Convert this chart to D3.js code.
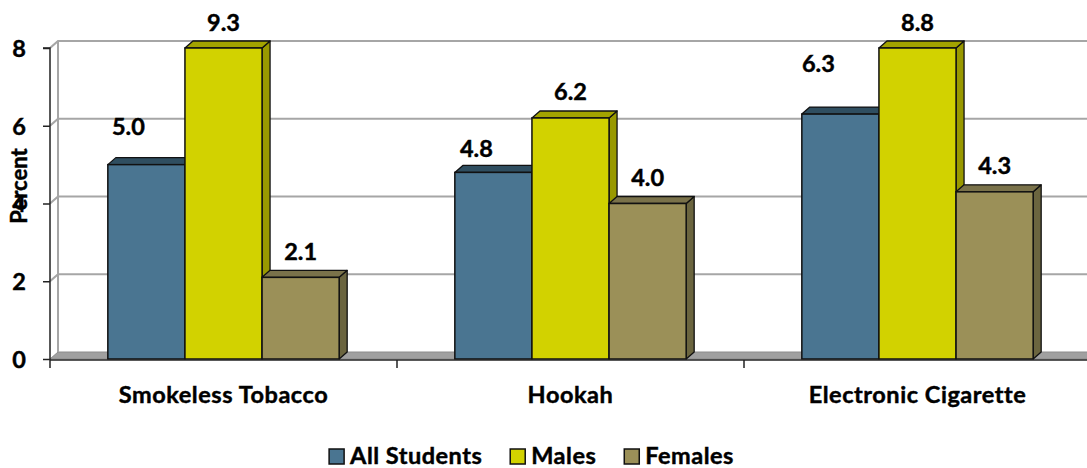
<!DOCTYPE html>
<html>
<head>
<meta charset="utf-8">
<script src="https://cdn.jsdelivr.net/npm/d3@7"></script>
<style>
  html, body { margin: 0; padding: 0; background: #ffffff; }
  svg { display: block; }
  svg text { font-family: Lato, "Open Sans", sans-serif; font-weight: 700; fill: #000; stroke: #000; stroke-width: 0.45px; }
</style>
</head>
<body>
<svg id="chart" width="1087" height="468"></svg>
<script>
// Tobacco product use by students (percent)
const categories = ["Smokeless Tobacco", "Hookah", "Electronic Cigarette"];
const seriesNames = ["All Students", "Males", "Females"];
const allStudents = [5.0, 4.8, 6.3];
const males = [9.3, 6.2, 8.8];
const females = [2.1, 4.0, 4.3];
const yTicks = [0, 2, 4, 6, 8];

// Manual nudges for the "All Students" value labels (dx, dy in px)
const allStudentsLabelDx = [-18, -17, -22];
const allStudentsLabelDy = [-12, 2, -25];

const seriesValues = [allStudents, males, females];
const frontColors = ["#4a7591", "#d2d200", "#9b9058"];
const topColors = ["#2f4e60", "#a3a300", "#7a724a"];
const sideColors = ["#35576b", "#999900", "#6b653f"];

const W = 1087, H = 468;
const svg = d3.select("#chart");
svg.append("rect").attr("width", W).attr("height", H).attr("fill", "#fff");

// Front plane of the 3-D plot and depth offset
const plotLeft = 50, plotRight = 1091, plotTop = 48, plotBottom = 359;
const DX = 8, DY = -7;

const y = d3.scaleLinear().domain([0, 8]).range([plotBottom, plotTop]);
const x0 = d3.scaleBand().domain(categories).range([plotLeft, plotRight]).paddingInner(0).paddingOuter(0);
const barW = x0.bandwidth() / (seriesNames.length + 1.5);
const x1 = d3.scaleBand().domain(seriesNames)
  .range([barW * 0.75, barW * 0.75 + barW * seriesNames.length]).padding(0);

const gridColor = "#a6a6a6";

// Floor
svg.append("path")
  .attr("d", `M${plotLeft},${y(0)} L${plotLeft + DX},${y(0) + DY} L${plotRight + DX},${y(0) + DY} L${plotRight},${y(0)} Z`)
  .attr("fill", "#a0a0a0").attr("stroke", "#8c8c8c").attr("stroke-width", 1);

// Side wall outline
svg.append("line")
  .attr("x1", plotLeft + DX).attr("x2", plotLeft + DX)
  .attr("y1", y(8) + DY).attr("y2", y(0) + DY)
  .attr("stroke", gridColor).attr("stroke-width", 2);

// Gridlines across the side wall and back wall
const grid = svg.append("g");
yTicks.filter(t => t > 0).forEach(t => {
  grid.append("path")
    .attr("d", `M${plotLeft},${y(t)} L${plotLeft + DX},${y(t) + DY} L${plotRight + DX},${y(t) + DY}`)
    .attr("fill", "none").attr("stroke", gridColor).attr("stroke-width", 2.2);
});

// Bars
const barsG = svg.append("g");
categories.forEach((cat, ci) => {
  seriesNames.forEach((s, si) => {
    const v = Math.min(seriesValues[si][ci], 8);
    const xa = x0(cat) + x1(s), xb = xa + barW;
    const yt = y(v), yb = y(0);
    const g = barsG.append("g");
    g.append("path")
      .attr("d", `M${xb},${yt} L${xb + DX},${yt + DY} L${xb + DX},${yb + DY} L${xb},${yb} Z`)
      .attr("fill", sideColors[si]).attr("stroke", "#111").attr("stroke-width", 1.3).attr("stroke-linejoin", "round");
    g.append("path")
      .attr("d", `M${xa},${yt} L${xa + DX},${yt + DY} L${xb + DX},${yt + DY} L${xb},${yt} Z`)
      .attr("fill", topColors[si]).attr("stroke", "#111").attr("stroke-width", 1.3).attr("stroke-linejoin", "round");
    g.append("rect")
      .attr("x", xa).attr("y", yt).attr("width", barW).attr("height", yb - yt)
      .attr("fill", frontColors[si]).attr("stroke", "#111").attr("stroke-width", 1.5);
  });
});

// Value labels
const labelsG = svg.append("g").attr("text-anchor", "middle");
categories.forEach((cat, ci) => {
  seriesNames.forEach((s, si) => {
    const raw = seriesValues[si][ci];
    const v = Math.min(raw, 8);
    let cx = x0(cat) + x1(s) + barW / 2;
    let cy = y(v) - 26;
    if (si === 0) { cx += allStudentsLabelDx[ci]; cy += allStudentsLabelDy[ci]; }
    labelsG.append("text").attr("x", cx).attr("y", cy + 8.5)
      .style("font-size", "23.5px").text(d3.format(".1f")(raw));
  });
});

// Y axis (front edge)
const yAxis = d3.axisLeft(y).tickValues(yTicks).tickSize(7).tickPadding(17).tickFormat(d3.format("d"));
const yg = svg.append("g").attr("transform", `translate(${plotLeft},0)`).call(yAxis)
  .attr("font-family", null).attr("font-size", null);
yg.select(".domain").attr("stroke", "#222").attr("stroke-width", 1.5).attr("d", `M-7,${y(8)}H0V${y(0) + 1}`);
yg.selectAll(".tick line").attr("stroke", "#222").attr("stroke-width", 1.5);
yg.selectAll(".tick text").style("font-size", "23.5px").attr("dy", "0.36em");

// X axis
const xAxis = d3.axisBottom(x0).tickSize(0).tickPadding(26);
const xg = svg.append("g").attr("transform", `translate(0,${y(0) + 1})`).call(xAxis)
  .attr("font-family", null).attr("font-size", null);
xg.select(".domain").attr("stroke", "#222").attr("stroke-width", 1.5).attr("d", `M${plotLeft},0H${W}`);
xg.selectAll(".tick text").style("font-size", "23.5px").style("letter-spacing", "0.55px");
// Category separators
x0.domain().forEach(c => {
  xg.append("line").attr("x1", x0(c)).attr("x2", x0(c)).attr("y1", 0).attr("y2", 8)
    .attr("stroke", "#222").attr("stroke-width", 1.5);
});

// Y axis title
svg.append("text")
  .attr("transform", `translate(27,186) rotate(-90)`)
  .attr("text-anchor", "middle").style("font-size", "22px")
  .text("Percent");

// Legend
const legend = svg.append("g");
let lx = 0;
seriesNames.forEach((s, si) => {
  const g = legend.append("g").attr("transform", `translate(${lx},0)`);
  g.append("rect").attr("x", 0).attr("y", 449).attr("width", 15).attr("height", 15)
    .attr("fill", frontColors[si]).attr("stroke", "#111").attr("stroke-width", 1.5);
  const t = g.append("text").attr("x", 21).attr("y", 464)
    .style("font-size", "23.5px").style("letter-spacing", "0.5px").text(s);
  lx += 21 + t.node().getComputedTextLength() + 28;
});
const legendWidth = lx - 28;
legend.attr("transform", `translate(${531.5 - legendWidth / 2},0)`);
</script>
</body>
</html>
